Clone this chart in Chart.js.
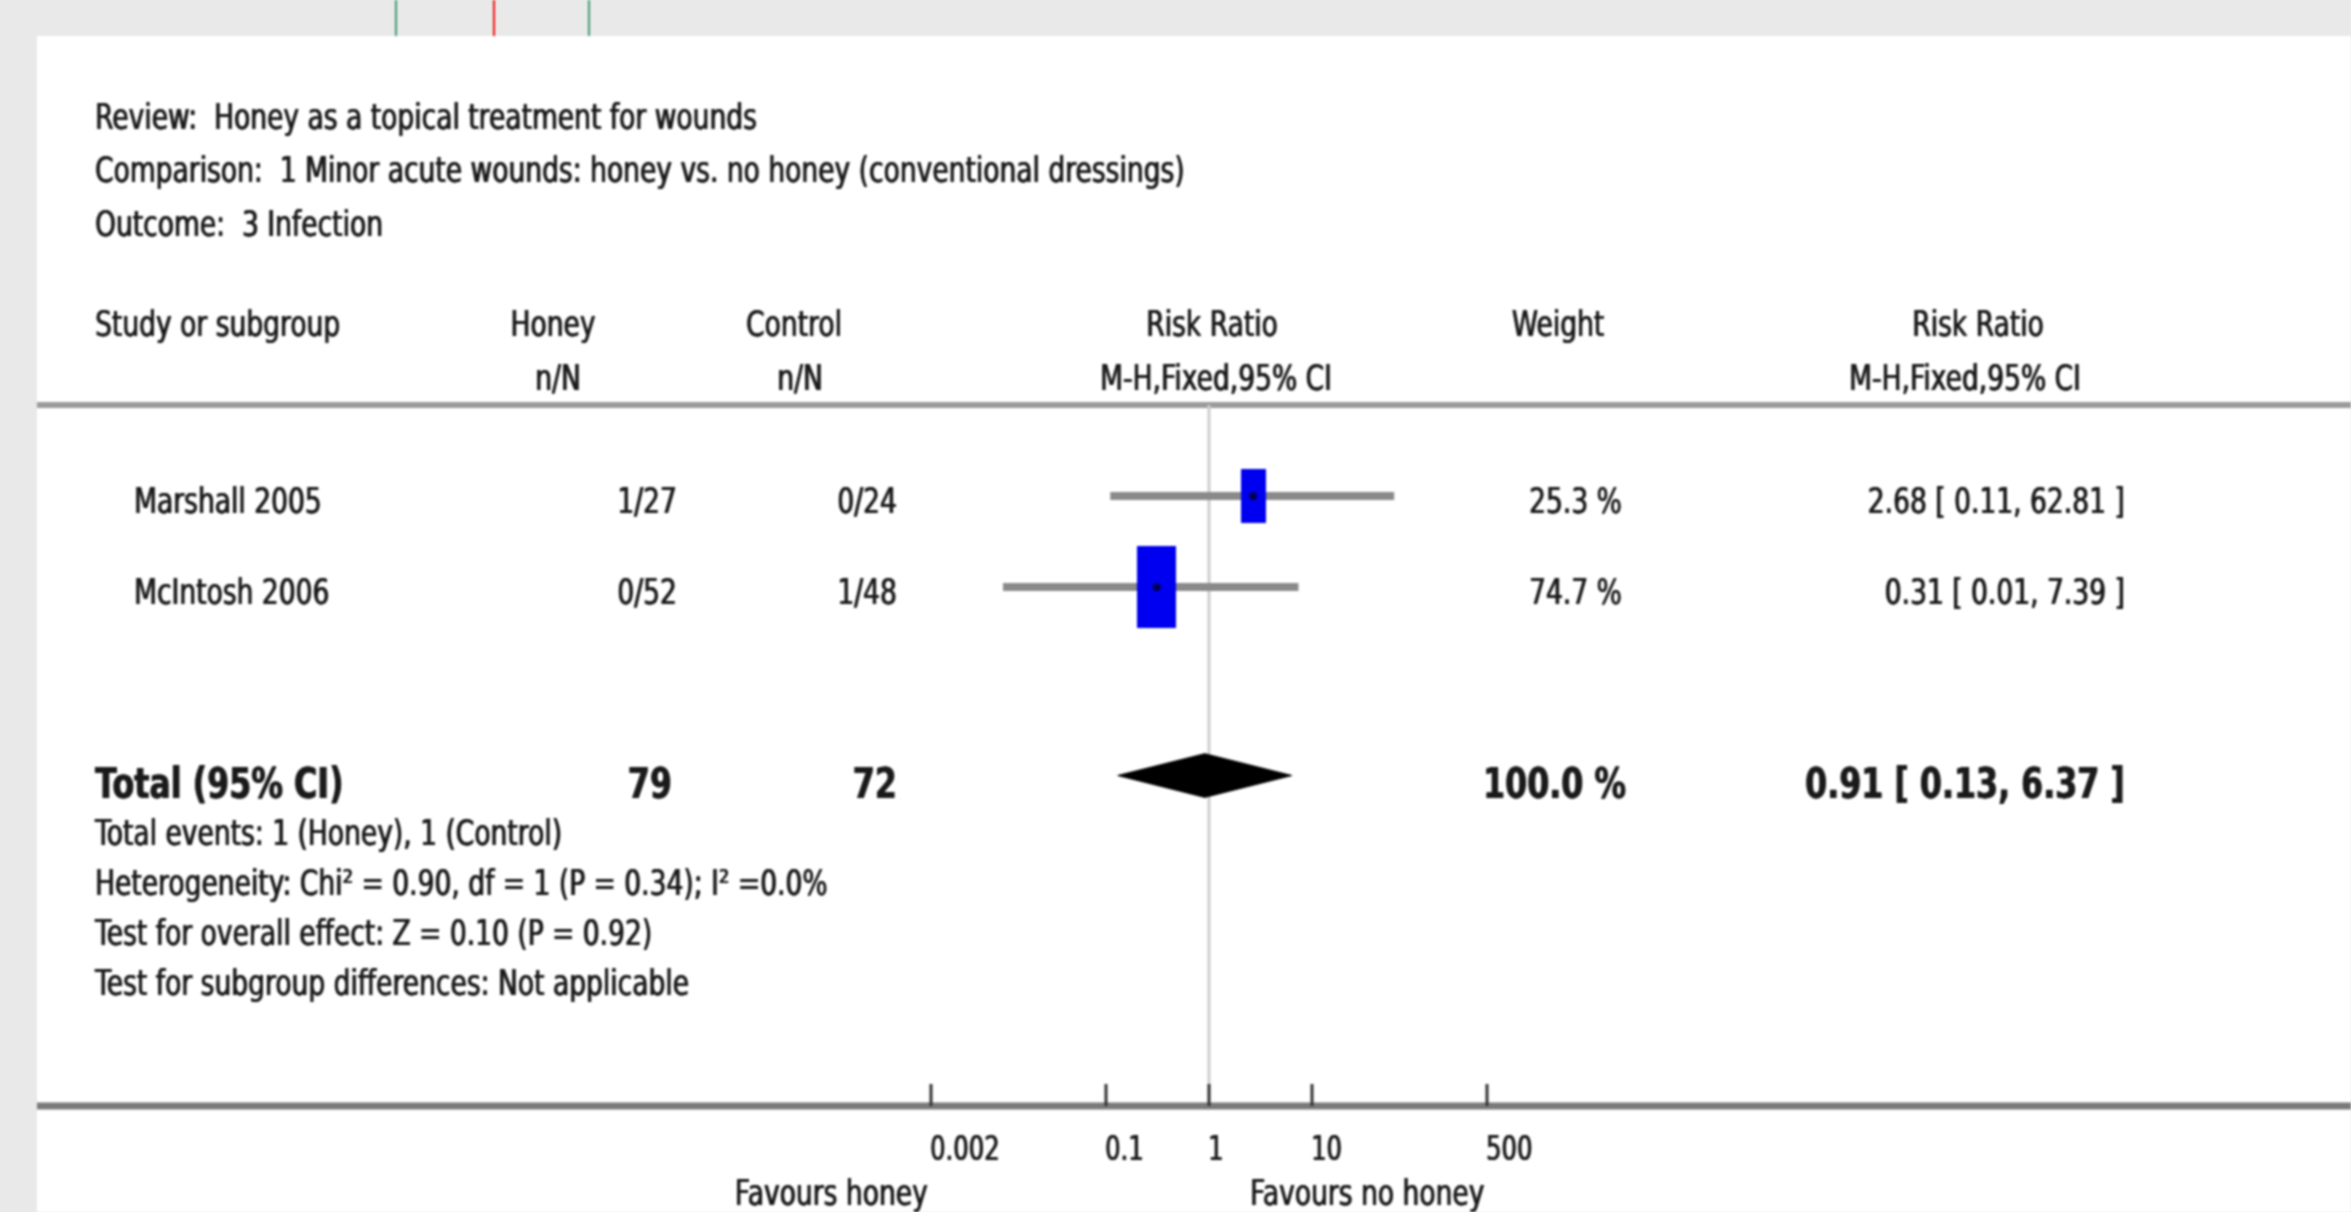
<!DOCTYPE html>
<html>
<head>
<meta charset="utf-8">
<title>Honey as a topical treatment for wounds - forest plot</title>
<script src="https://cdn.jsdelivr.net/npm/chart.js@4.4.1/dist/chart.umd.min.js"></script>
<style>
html, body { margin: 0; padding: 0; width: 2351px; height: 1212px; overflow: hidden; background: #e9e9e9; }
#sheet { position: absolute; left: 0; top: 0; width: 2351px; height: 1212px; filter: blur(1.2px); }
#paper { position: absolute; left: 37px; top: 36px; right: 0; bottom: 0; background: #fff; }
.mark { position: absolute; top: 0; width: 2px; height: 36px; }
#forestChart { position: absolute; left: 0; top: 0; width: 2351px; height: 1212px; }
#textLayer { position: absolute; left: 0; top: 0; width: 2351px; height: 1212px; }
.t { position: absolute; white-space: pre; line-height: 1; color: #1a1a1a;
     font-family: "DejaVu Sans", Verdana, sans-serif;
     text-shadow: 0.7px 0 0 #1a1a1a, -0.5px 0 0 #1a1a1a; }
</style>
</head>
<body>
<div id="sheet">
  <div class="mark" style="left:395px; background:#3f9b70;"></div>
  <div class="mark" style="left:493px; background:#f01010;"></div>
  <div class="mark" style="left:588px; background:#3f9b70;"></div>
  <div id="paper"></div>
  <canvas id="forestChart" width="2351" height="1212"></canvas>
  <div id="textLayer"></div>
</div>
<script>
// data
var studyNames = ['Marshall 2005', 'McIntosh 2006'];
var honeyEvents = [1, 0];
var honeyTotals = [27, 52];
var controlEvents = [0, 1];
var controlTotals = [24, 48];
var studyWeights = [25.3, 74.7];
var riskRatios = [2.68, 0.31];
var ciLower = [0.11, 0.01];
var ciUpper = [62.81, 7.39];

var totalHoney = 79;
var totalControl = 72;
var totalWeight = 100.0;
var totalRatio = 0.91;
var totalLower = 0.13;
var totalUpper = 6.37;

var tickValues = [0.002, 0.1, 1, 10, 500];
var tickLabels = ['0.002', '0.1', '1', '10', '500'];

var titleLines = [
    'Review:  Honey as a topical treatment for wounds',
    'Comparison:  1 Minor acute wounds: honey vs. no honey (conventional dressings)',
    'Outcome:  3 Infection'
];
var footLines = [
    'Total events: 1 (Honey), 1 (Control)',
    'Heterogeneity: Chi\u00b2 = 0.90, df = 1 (P = 0.34); I\u00b2 =0.0%',
    'Test for overall effect: Z = 0.10 (P = 0.92)',
    'Test for subgroup differences: Not applicable'
];

// layout
var PAGE_W = 2351;
var SQUEEZE = 0.737;
var FONT = 36, BOLD_FONT = 43, TICK_FONT = 33;
var PAPER_LEFT = 37;
var HEADER_RULE_Y = 405;
var studyRows = [1, 2];
var totalRow = 4.07;
var rowMax = 7.7;
var diamondHalf = 0.24;

var layer = document.getElementById('textLayer');

function addText(str, x, baseline, align, size, bold)
{
    var el = document.createElement('span');
    el.className = 't';
    el.textContent = str;
    el.style.fontSize = size + 'px';
    el.style.top = (baseline - 0.846 * size) + 'px';
    if (bold) el.style.fontWeight = 'bold';
    if (align === 'left') {
        el.style.left = x + 'px';
        el.style.transformOrigin = '0 0';
        el.style.transform = 'scaleX(' + SQUEEZE + ')';
    } else if (align === 'right') {
        el.style.right = (PAGE_W - x) + 'px';
        el.style.transformOrigin = '100% 0';
        el.style.transform = 'scaleX(' + SQUEEZE + ')';
    } else {
        el.style.left = x + 'px';
        el.style.transformOrigin = '50% 0';
        el.style.transform = 'translateX(-50%) scaleX(' + SQUEEZE + ')';
    }
    layer.appendChild(el);
}

function makeSquare(weight)
{
    var h = Math.round(16 + 7.6 * Math.sqrt(weight));
    var w = Math.round(h * 0.47);
    var c = document.createElement('canvas');
    c.width = w;
    c.height = h;
    var g = c.getContext('2d');
    g.fillStyle = '#0000f0';
    g.fillRect(0, 0, w, h);
    g.fillStyle = '#000050';
    g.beginPath();
    g.arc(w / 2, h / 2, 4, 0, Math.PI * 2);
    g.fill();
    return c;
}

var forestFrame = {
    id: 'forestFrame',
    beforeDatasetsDraw: function(chart) {
        var ctx = chart.ctx;
        var xs = chart.scales.x;
        var area = chart.chartArea;
        ctx.save();
        // rule under the column headers
        ctx.strokeStyle = '#9b9b9b';
        ctx.lineWidth = 6;
        ctx.beginPath();
        ctx.moveTo(PAPER_LEFT, HEADER_RULE_Y);
        ctx.lineTo(chart.width, HEADER_RULE_Y);
        ctx.stroke();
        // line of no effect
        var x1 = xs.getPixelForValue(1);
        ctx.strokeStyle = '#cdcdcd';
        ctx.lineWidth = 3;
        ctx.beginPath();
        ctx.moveTo(x1, HEADER_RULE_Y);
        ctx.lineTo(x1, area.bottom);
        ctx.stroke();
        // axis
        ctx.strokeStyle = '#7a7a7a';
        ctx.lineWidth = 7;
        ctx.beginPath();
        ctx.moveTo(PAPER_LEFT, area.bottom);
        ctx.lineTo(chart.width, area.bottom);
        ctx.stroke();
        ctx.strokeStyle = '#333';
        ctx.lineWidth = 3;
        xs.ticks.forEach(function(t) {
            var x = xs.getPixelForValue(t.value);
            ctx.beginPath();
            ctx.moveTo(x, area.bottom - 22);
            ctx.lineTo(x, area.bottom);
            ctx.stroke();
        });
        ctx.restore();
    }
};

function buildDatasets()
{
    var sets = [];
    sets.push({
        type: 'scatter',
        label: 'Study estimate',
        data: studyNames.map(function(n, i) { return {x: riskRatios[i], y: studyRows[i]}; }),
        pointStyle: studyWeights.map(makeSquare),
        pointRadius: 6,
        order: 0
    });
    studyNames.forEach(function(n, i) {
        sets.push({
            type: 'line',
            label: n + ' 95% CI',
            data: [{x: ciLower[i], y: studyRows[i]}, {x: ciUpper[i], y: studyRows[i]}],
            borderColor: '#8a8a8a',
            borderWidth: 8,
            pointRadius: 0,
            fill: false,
            order: 1
        });
    });
    sets.push({
        type: 'line',
        label: 'Total upper',
        data: [{x: totalLower, y: totalRow}, {x: totalRatio, y: totalRow - diamondHalf}, {x: totalUpper, y: totalRow}],
        borderColor: '#000',
        borderWidth: 1,
        pointRadius: 0,
        fill: false,
        order: 2
    });
    sets.push({
        type: 'line',
        label: 'Total lower',
        data: [{x: totalLower, y: totalRow}, {x: totalRatio, y: totalRow + diamondHalf}, {x: totalUpper, y: totalRow}],
        borderColor: '#000',
        backgroundColor: '#000',
        borderWidth: 1,
        pointRadius: 0,
        fill: '-1',
        order: 2
    });
    return sets;
}

var forestChart = new Chart(document.getElementById('forestChart'), {
    type: 'scatter',
    data: { datasets: buildDatasets() },
    options: {
        responsive: false,
        animation: false,
        devicePixelRatio: 1,
        events: [],
        layout: { padding: { left: 931, right: 864, top: HEADER_RULE_Y, bottom: 106 } },
        plugins: { legend: { display: false }, tooltip: { enabled: false } },
        scales: {
            x: {
                type: 'logarithmic',
                display: false,
                min: 0.002,
                max: 500,
                afterBuildTicks: function(scale) {
                    scale.ticks = tickValues.map(function(v) { return {value: v}; });
                }
            },
            y: { type: 'linear', display: false, reverse: true, min: 0, max: rowMax }
        }
    },
    plugins: [forestFrame]
});

// table text
titleLines.forEach(function(s, i) { addText(s, 95, 129 + i * 53.5, 'left', FONT); });

addText('Study or subgroup', 95, 336, 'left', FONT);
addText('Honey', 553, 336, 'center', FONT);
addText('n/N', 558, 390, 'center', FONT);
addText('Control', 794, 336, 'center', FONT);
addText('n/N', 800, 390, 'center', FONT);
addText('Risk Ratio', 1212, 336, 'center', FONT);
addText('M-H,Fixed,95% CI', 1216, 390, 'center', FONT);
addText('Weight', 1558, 336, 'center', FONT);
addText('Risk Ratio', 1978, 336, 'center', FONT);
addText('M-H,Fixed,95% CI', 1965, 390, 'center', FONT);

var ys = forestChart.scales.y;
var xs = forestChart.scales.x;

studyNames.forEach(function(n, i) {
    var base = ys.getPixelForValue(studyRows[i]) + 17;
    addText(n, 134, base, 'left', FONT);
    addText(honeyEvents[i] + '/' + honeyTotals[i], 677, base, 'right', FONT);
    addText(controlEvents[i] + '/' + controlTotals[i], 897, base, 'right', FONT);
    addText(studyWeights[i].toFixed(1) + ' %', 1622, base, 'right', FONT);
    addText(riskRatios[i].toFixed(2) + ' [ ' + ciLower[i].toFixed(2) + ', ' + ciUpper[i].toFixed(2) + ' ]', 2125, base, 'right', FONT);
});

var totalBase = ys.getPixelForValue(totalRow) + 23;
addText('Total (95% CI)', 95, totalBase, 'left', BOLD_FONT, true);
addText(String(totalHoney), 672, totalBase, 'right', BOLD_FONT, true);
addText(String(totalControl), 897, totalBase, 'right', BOLD_FONT, true);
addText(totalWeight.toFixed(1) + ' %', 1626, totalBase, 'right', BOLD_FONT, true);
addText(totalRatio.toFixed(2) + ' [ ' + totalLower.toFixed(2) + ', ' + totalUpper.toFixed(2) + ' ]', 2125, totalBase, 'right', BOLD_FONT, true);

footLines.forEach(function(s, i) { addText(s, 95, 845 + i * 50, 'left', FONT); });

// axis labels placed from the log scale
tickValues.forEach(function(v, i) {
    addText(tickLabels[i], xs.getPixelForValue(v) - 1, 1160, 'left', TICK_FONT);
});
addText('Favours honey', 928, 1205, 'right', FONT);
addText('Favours no honey', 1250, 1205, 'left', FONT);
</script>
</body>
</html>
